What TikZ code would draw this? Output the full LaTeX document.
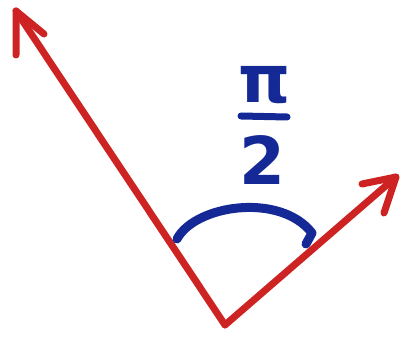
\documentclass[tikz,border=0pt]{standalone}
\usepackage{fontspec}
\setmainfont{DejaVu Sans}
\definecolor{penred}{RGB}{205,35,35}
\definecolor{penblue}{RGB}{20,40,150}
\tikzset{
  redpen/.style={draw=penred, line width=7pt, line cap=round, line join=round},
  bluepen/.style={draw=penblue, line width=9pt, line cap=round, line join=round},
  fraclabel/.style={text=penblue, font=\fontsize{66}{70}\selectfont\bfseries, inner sep=0pt}
}
\begin{document}
\begin{tikzpicture}[x=1pt,y=1pt]
\useasboundingbox (0,0) rectangle (402,337);
\coordinate (V) at (225,12);
\coordinate (TL) at (16,326);
\coordinate (TR) at (396,160);
\coordinate (BL1) at (16,282);
\coordinate (BL2) at (44,303);
\coordinate (BR1) at (362,153);
\coordinate (BR2) at (384,124);
\coordinate (A1) at (177,98);
\coordinate (A2) at (312,104);
\coordinate (A3) at (306,93);
\draw[redpen] (V) -- (TL);
\draw[redpen] (BL1) -- (TL) -- (BL2);
\draw[redpen] (V) -- (TR);
\draw[redpen] (BR1) -- (TR) -- (BR2);
\draw[bluepen] (A1) .. controls (195,132) and (280,145) .. (A2) -- (A3);
\node[fraclabel] (P) at (265,252) {π};
\coordinate (F1) at (241,221);
\coordinate (F2) at (287,220);
\draw[bluepen, line width=7pt] (F1) -- (F2);
\node[fraclabel] (T) at (262,177) {2};
\end{tikzpicture}
\end{document}
